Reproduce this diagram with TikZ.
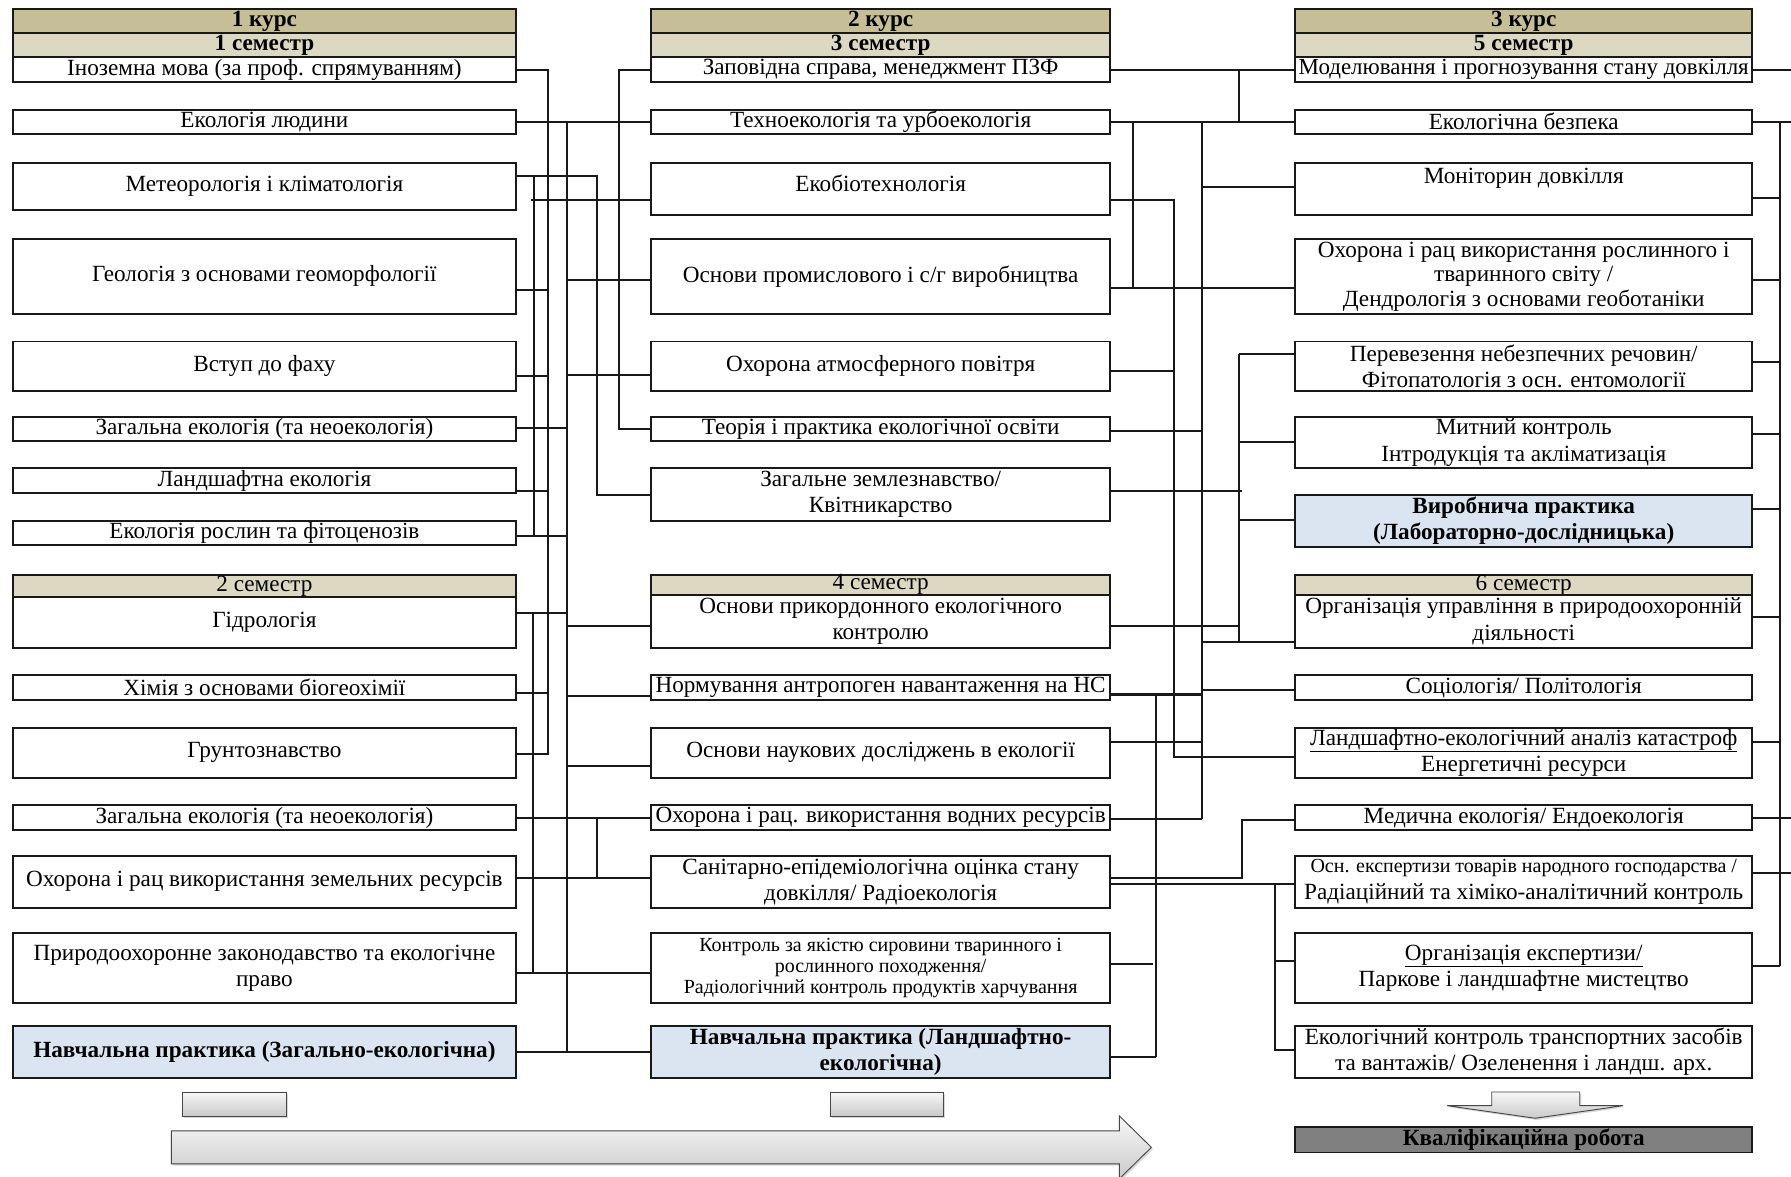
\documentclass[tikz,border=0pt]{standalone}
\usepackage{fontspec}
\setmainfont{Liberation Serif}
\usepackage{graphicx}
\usetikzlibrary{shadows}
\definecolor{hdrA}{RGB}{197,190,151}
\definecolor{hdrB}{RGB}{221,216,193}
\definecolor{blu}{RGB}{219,229,241}
\definecolor{qgr}{RGB}{128,128,128}
\newsavebox\fitbox
\newdimen\maxw \maxw=394pt
\newcommand\fl[1]{\sbox\fitbox{#1}\ifdim\wd\fitbox>\maxw\resizebox{\maxw}{!}{\usebox\fitbox}\else\usebox\fitbox\fi}
\newcommand\upx[2]{\smash{\raisebox{#1}{#2}}\vphantom{#2}}
\newcommand\fs{\fontsize{20.3}{23}\selectfont}
\newcommand\fsm{\fontsize{17.5}{18.5}\selectfont}
\newcommand\bx[7][]{\node[box,minimum width={#5-#3},minimum height={#6-#4},#1] (#2) at (#3,#4) {#7};}
\begin{document}
\begin{tikzpicture}[x=1pt,y=-1pt,
  box/.style={draw=black!90,line width=1.7pt,inner sep=0pt,outer sep=0pt,anchor=north west,align=center,fill=white,font=\fs},
  colA/.style={execute at begin node={\maxw=434pt}},
  hA/.style={fill=hdrA,font=\fs\bfseries},
  hB/.style={fill=hdrB},
  bld/.style={font=\fs\bfseries},
  prac/.style={fill=blu,font=\fs\bfseries},
  conn/.style={draw=black!90,line width=1.8pt},
  grad/.style={draw=gray!55!black,line width=0.8pt,top color=gray!6,bottom color=gray!42,drop shadow={opacity=0.3,shadow xshift=1.5pt,shadow yshift=-1.5pt}}]
\useasboundingbox (0,0) rectangle (1568,1030);
\fill[white] (0,0) rectangle (1568,1030);

% ---------- column 1 ----------
\bx[hA,colA]{h1a}{11}{8}{452}{29}{1 курс}
\bx[hB,bld,colA]{h1b}{11}{29}{452}{50}{1 семестр}
\bx[colA]{a1}{11}{50}{452}{72}{\fl{Іноземна мова (за проф. спрямуванням)}}
\bx[colA]{a2}{11}{96}{452}{117}{Екологія людини}
\bx[colA]{a3}{11}{143}{452}{184}{Метеорологія і кліматологія}
\bx[colA]{a4}{11}{209}{452}{275}{\fl{Геологія з основами геоморфології}}
\bx[colA]{a5}{11}{299}{452}{342}{Вступ до фаху}
\bx[colA]{a6}{11}{365}{452}{386}{\fl{Загальна екологія (та неоекологія)}}
\bx[colA]{a7}{11}{410}{452}{432}{Ландшафтна екологія}
\bx[colA]{a8}{11}{456}{452}{477}{\fl{Екологія рослин та фітоценозів}}
\bx[hB,colA]{h1c}{11}{503}{452}{523}{2 семестр}
\bx[colA]{a9}{11}{523}{452}{567}{Гідрологія}
\bx[colA]{a10}{11}{591}{452}{613}{\fl{Хімія з основами біогеохімії}}
\bx[colA]{a11}{11}{637}{452}{681}{Грунтознавство}
\bx[colA]{a12}{11}{705}{452}{727}{\fl{Загальна екологія (та неоекологія)}}
\bx[colA]{a13}{11}{749}{452}{795}{\fl{Охорона і рац використання земельних ресурсів}}
\bx[colA]{a14}{11}{817}{452}{878}{\fl{Природоохоронне законодавство та екологічне}\\право}
\bx[prac,colA]{a15}{11}{898}{452}{944}{\fl{Навчальна практика (Загально-екологічна)}}

% ---------- column 2 ----------
\bx[hA]{h2a}{570}{8}{972}{29}{2 курс}
\bx[hB,bld]{h2b}{570}{29}{972}{50}{3 семестр}
\bx{b1}{570}{50}{972}{72}{\fl{Заповідна справа, менеджмент ПЗФ}}
\bx{b2}{570}{96}{972}{117}{\fl{Техноекологія та урбоекологія}}
\bx{b3}{570}{143}{972}{188}{\upx{5pt}{Екобіотехнологія}}
\bx{b4}{570}{209}{972}{275}{\fl{Основи промислового і с/г виробництва}}
\bx{b5}{570}{299}{972}{342}{\fl{Охорона атмосферного повітря}}
\bx{b6}{570}{365}{972}{386}{\fl{Теорія і практика екологічної освіти}}
\bx{b7}{570}{410}{972}{456}{Загальне землезнавство/\\Квітникарство}
\bx[hB]{h2c}{570}{503}{972}{521}{4 семестр}
\bx{b8}{570}{521}{972}{567}{\fl{Основи прикордонного екологічного}\\контролю}
\bx{b9}{570}{591}{972}{613}{\fl{Нормування антропоген навантаження на НС}}
\bx{b10}{570}{637}{972}{681}{\fl{Основи наукових досліджень в екології}}
\bx{b11}{570}{705}{972}{727}{\fl{Охорона і рац. використання водних ресурсів}}
\bx{b12}{570}{749}{972}{795}{\fl{Санітарно-епідеміологічна оцінка стану}\\довкілля/ Радіоекологія}
\bx[font=\fsm]{b13}{570}{817}{972}{878}{\fl{Контроль за якістю сировини тваринного і}\\рослинного походження/\\\fl{Радіологічний контроль продуктів харчування}}
\bx[prac]{b14}{570}{898}{972}{944}{\fl{Навчальна практика (Ландшафтно-}\\екологічна)}

% ---------- column 3 ----------
\bx[hA]{h3a}{1134}{8}{1534}{29}{3 курс}
\bx[hB,bld]{h3b}{1134}{29}{1534}{50}{5 семестр}
\bx{c1}{1134}{50}{1534}{72}{\fl{Моделювання і прогнозування стану довкілля}}
\bx{c2}{1134}{96}{1534}{117}{Екологічна безпека}
\bx{c3}{1134}{143}{1534}{188}{Моніторин довкілля\\\mbox{}}
\bx[font=\fontsize{20.3}{21.5}\selectfont]{c4}{1134}{209}{1534}{275}{\fl{Охорона і рац використання рослинного і}\\тваринного світу /\\\fl{Дендрологія з основами геоботаніки}}
\bx{c5}{1134}{299}{1534}{342}{\fl{Перевезення небезпечних речовин/}\\\fl{Фітопатологія з осн. ентомології}}
\bx{c6}{1134}{365}{1534}{410}{Митний контроль\\\fl{Інтродукція та акліматизація}}
\bx[prac]{c7}{1134}{433}{1534}{479}{Виробнича практика\\\fl{(Лабораторно-дослідницька)}}
\bx[hB]{h3c}{1134}{503}{1534}{521}{6 семестр}
\bx{c8}{1134}{521}{1534}{567}{\fl{Організація управління в природоохоронній}\\діяльності}
\bx{c9}{1134}{591}{1534}{613}{Соціологія/ Політологія}
\bx{c10}{1134}{637}{1534}{681}{\fl{\underline{Ландшафтно-екологічний аналіз катастроф}}\\Енергетичні ресурси}
\bx{c11}{1134}{705}{1534}{727}{\fl{Медична екологія/ Ендоекологія}}
\bx{c12}{1134}{749}{1534}{795}{\fl{\fontsize{17.5}{18}\selectfont Осн. експертизи товарів народного господарства /}\\\fl{Радіаційний та хіміко-аналітичний контроль}}
\bx{c13}{1134}{817}{1534}{878}{\underline{Організація експертизи/}\\\fl{Паркове і ландшафтне мистецтво}}
\bx{c14}{1134}{898}{1534}{944}{\fl{Екологічний контроль транспортних засобів}\\\fl{та вантажів/ Озеленення і ландш. арх.}}
\bx[fill=qgr,font=\fs\bfseries]{kr}{1134}{987}{1534}{1009}{Кваліфікаційна робота}

% ---------- connectors col1 -> col2 ----------
\draw[conn] (a1.east) -| (479.4,660) -- (a11.east |- 0,660);
\draw[conn] (a4.east |- 0,254) -- (479.4,254);
\draw[conn] (a5.east |- 0,329) -- (479.4,329);
\draw[conn] (a7.east |- 0,430) -- (479.4,430);
\draw[conn] (a10.east |- 0,607) -- (479.4,607);
\draw[conn] (a2.east) -- (b2.west);
\draw[conn] (a12.east) -- (b11.west);
\draw[conn] (a13.east |- 0,769) -- (b12.west |- 0,769);
\draw[conn] (a14.east |- 0,852) -- (b13.west |- 0,852);
\draw[conn] (a15.east) -- (b14.west);
\draw[conn] (496.6,106.5) -- (496.6,921);
\draw[conn] (496.6,245) -- (b4.west |- 0,245);
\draw[conn] (496.6,328) -- (b5.west |- 0,328);
\draw[conn] (a6.east |- 0,375) -- (496.6,375);
\draw[conn] (a8.east |- 0,469) -- (496.6,469);
\draw[conn] (a9.east |- 0,537) -- (496.6,537);
\draw[conn] (496.6,548) -- (b8.west |- 0,548);
\draw[conn] (496.6,609) -- (b9.west |- 0,609);
\draw[conn] (496.6,671) -- (b10.west |- 0,671);
\draw[conn] (a3.east |- 0,154) -| (522.6,433) -- (b7.west);
\draw[conn] (467.8,154) -- (467.8,469);
\draw[conn] (465,175) -- (b3.west |- 0,175);
\draw[conn] (b1.west) -| (542.1,375.5) -- (b6.west);
\draw[conn] (522.6,716) -- (522.6,769);
\draw[conn] (466.4,537) -- (466.4,852);

% ---------- connectors col2 -> col3 ----------
\draw[conn] (b1.east) -- (c1.west);
\draw[conn] (1085,61) -- (1085,106.5);
\draw[conn] (b2.east) -- (c2.west);
\draw[conn] (991.7,106.5) -- (991.7,252);
\draw[conn] (1052.3,106.5) -- (1052.3,717);
\draw[conn] (1052.3,164) -- (c3.west |- 0,164);
\draw[conn] (b3.east |- 0,175) -| (1027.8,663) -- (c10.west |- 0,663);
\draw[conn] (b4.east |- 0,252) -- (c4.west |- 0,252);
\draw[conn] (1085,310) -- (1085,562);
\draw[conn] (1085,310) -- (c5.west |- 0,310);
\draw[conn] (b5.east |- 0,325) -- (1027.8,325);
\draw[conn] (b6.east |- 0,377) -- (1052.3,377);
\draw[conn] (1085,387) -- (c6.west |- 0,387);
\draw[conn] (b7.east |- 0,430) -- (1087,430);
\draw[conn] (1085,455) -- (c7.west |- 0,455);
\draw[conn] (b8.east |- 0,548) -- (1085,548);
\draw[conn] (1052.3,562) -- (c8.west |- 0,562);
\draw[conn] (1052.3,604) -- (c9.west |- 0,604);
\draw[conn] (b9.east |- 0,608) -- (1052.3,608);
\draw[conn] (1011.9,608) -- (1011.9,925);
\draw[conn] (b10.east |- 0,650) -- (1052.3,650);
\draw[conn] (b11.east |- 0,717) -- (1052.3,717);
\draw[conn] (b12.east |- 0,769) -| (1087,718) -- (c11.west |- 0,718);
\draw[conn] (b12.east |- 0,774) -- (c12.west |- 0,774);
\draw[conn] (1116.5,774) -- (1116.5,919) -- (c14.west |- 0,919);
\draw[conn] (1116.5,841) -- (c13.west |- 0,841);
\draw[conn] (b13.east |- 0,844) -- (1009,844);
\draw[conn] (b14.east |- 0,925) -- (1011.9,925);

% ---------- right side ----------
\draw[conn] (c1.east) -- (1568,61);
\draw[conn] (c2.east) -- (1568,106.5);
\draw[conn] (1558.4,106.5) -- (1558.4,846);
\draw[conn] (c3.east |- 0,173) -- (1558.4,173);
\draw[conn] (c4.east |- 0,245) -- (1558.4,245);
\draw[conn] (c5.east |- 0,317) -- (1558.4,317);
\draw[conn] (c6.east |- 0,380) -- (1558.4,380);
\draw[conn] (c7.east |- 0,446) -- (1558.4,446);
\draw[conn] (c8.east |- 0,540) -- (1558.4,540);
\draw[conn] (c10.east |- 0,650) -- (1558.4,650);
\draw[conn] (c11.east |- 0,716) -- (1568,716);
\draw[conn] (c12.east |- 0,764) -- (1568,764);
\draw[conn] (c13.east |- 0,846) -- (1558.4,846);

% ---------- bottom shapes ----------
\node[grad,rectangle,inner sep=0pt,minimum width=91,minimum height=21] (s1) at (205.5,966.5) {};
\node[grad,rectangle,inner sep=0pt,minimum width=99,minimum height=21] (s2) at (776.5,966.5) {};
\path[grad] (150,990) -- (980,990) -- (980,977) -- (1008,1004.5) -- (980,1032) -- (980,1019) -- (150,1019) -- cycle;
\path[grad] (1306,956) -- (1383,956) -- (1383,968) -- (1421,968) -- (1344,979) -- (1267,968) -- (1306,968) -- cycle;
\end{tikzpicture}
\end{document}
